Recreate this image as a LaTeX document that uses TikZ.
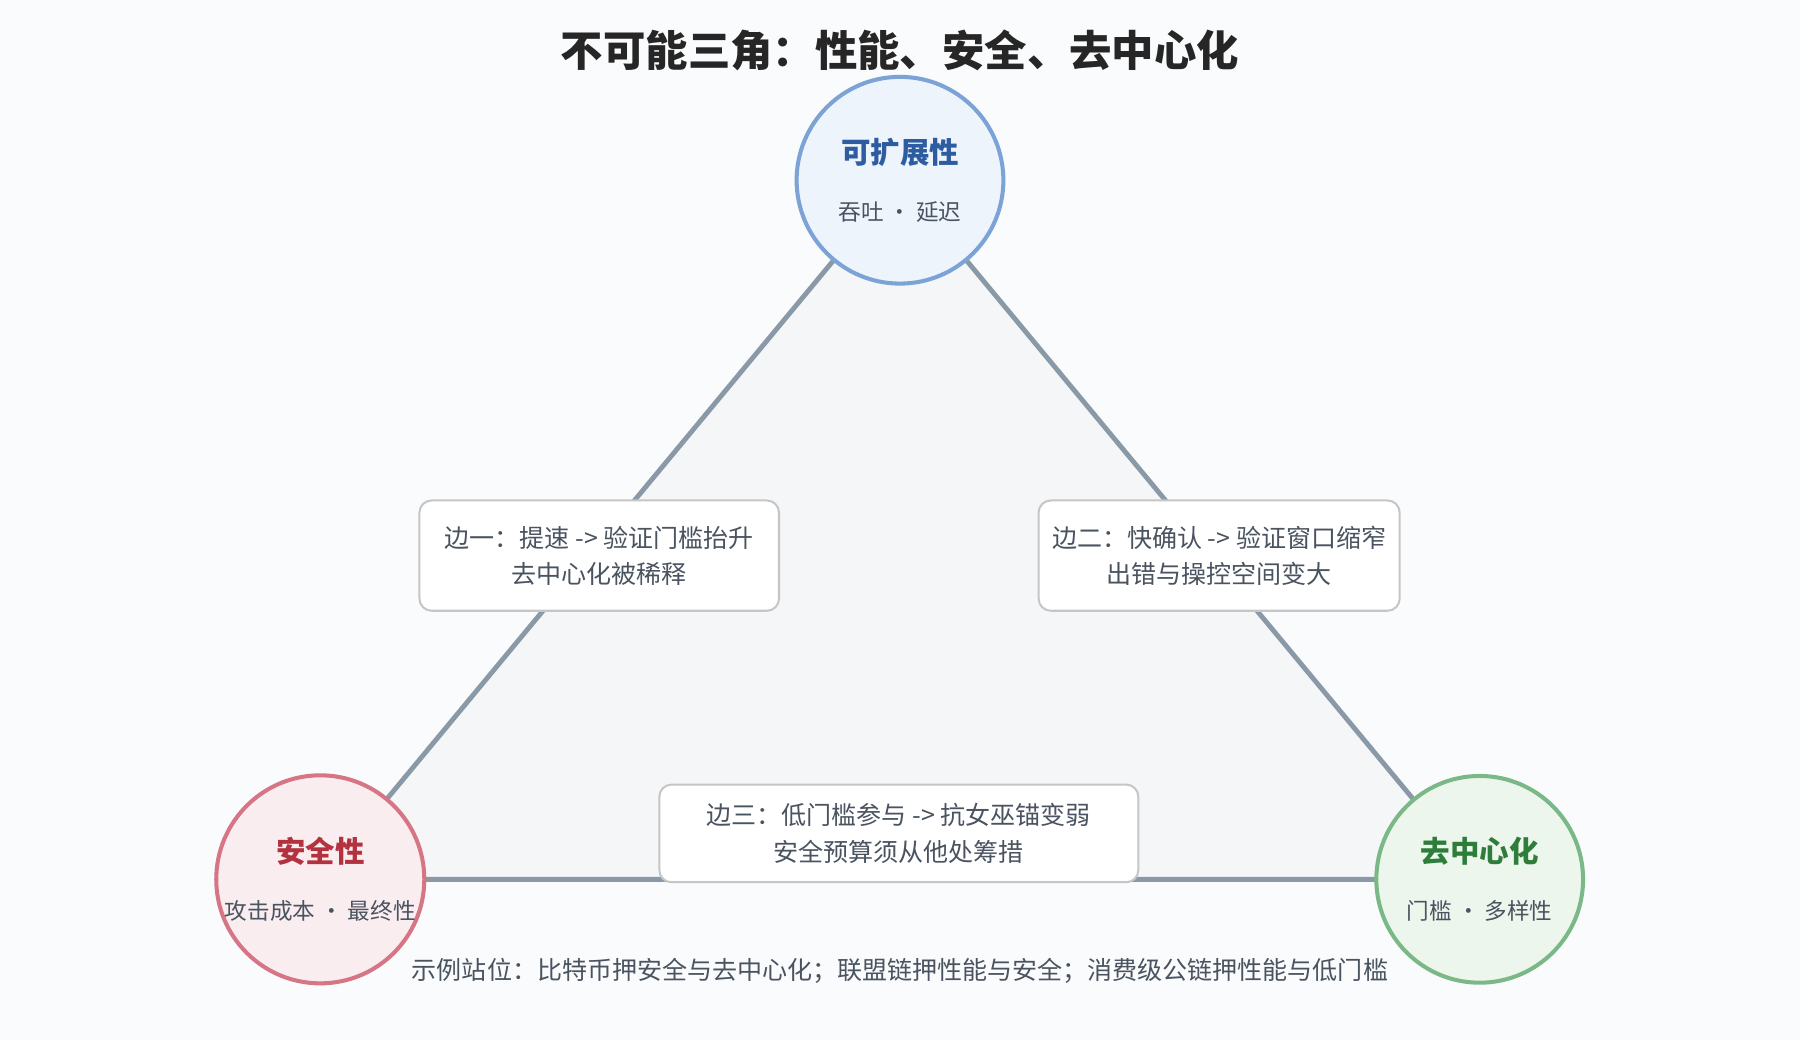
\documentclass[tikz,border=0pt]{standalone}
\usepackage{fontspec}
\setmainfont{Noto Sans CJK SC}
\definecolor{fond}{HTML}{FAFBFC}
\definecolor{trifond}{HTML}{F4F6F8}
\definecolor{trait}{HTML}{8A99A7}
\definecolor{bleuF}{HTML}{EEF4FC}\definecolor{bleuB}{HTML}{7BA3D6}\definecolor{bleuT}{HTML}{2D5CA0}
\definecolor{rougeF}{HTML}{FAEDF0}\definecolor{rougeB}{HTML}{D57586}\definecolor{rougeT}{HTML}{B3323F}
\definecolor{vertF}{HTML}{EDF6EC}\definecolor{vertB}{HTML}{7BB888}\definecolor{vertT}{HTML}{2E7D3A}
\definecolor{texte}{HTML}{4A5360}
\newcommand{\Sous}{\fontsize{5.6}{7}\selectfont\color{texte}}
\newcommand{\Nom}{\fontsize{7.3}{9}\selectfont\bfseries}
\begin{document}
\begin{tikzpicture}[x=0.01cm,y=-0.01cm]
% Styles
\tikzset{
  sommet/.style={circle,line width=1pt,minimum size=1.8cm,inner sep=0pt,align=center},
  cote/.style={line width=1.2pt,draw=trait},
  boite/.style={draw=gray!45,fill=white,rounded corners=3pt,line width=0.5pt,align=center,
    font=\fontsize{6.2}{9}\selectfont,text=texte}
}
% Fond
\fill[fond] (0,0) rectangle (1568,906);
% Sommets
\coordinate (H) at (784,157);
\coordinate (G) at (279,766);
\coordinate (D) at (1289,766);
% Triangle
\filldraw[cote,fill=trifond] (H) -- (G) -- (D) -- cycle;
% Titre
\node (titre) at (784,44) {\fontsize{10.5}{12}\selectfont\bfseries\color{black!85}不可能三角：性能、安全、去中心化};
% Cercles
\node[sommet,draw=bleuB,fill=bleuF] (scal) at (H) {{\Nom\color{bleuT}可扩展性}\\[2pt]{\Sous 吞吐 · 延迟}};
\node[sommet,draw=rougeB,fill=rougeF] (secu) at (G) {{\Nom\color{rougeT}安全性}\\[2pt]{\Sous 攻击成本 · 最终性}};
\node[sommet,draw=vertB,fill=vertF] (decen) at (D) {{\Nom\color{vertT}去中心化}\\[2pt]{\Sous 门槛 · 多样性}};
% Boites des cotes
\node[boite,minimum width=3.13cm,minimum height=0.96cm] (cote1) at (522,484) {边一：提速 -> 验证门槛抬升\\去中心化被稀释};
\node[boite,minimum width=3.13cm,minimum height=0.96cm] (cote2) at (1062,484) {边二：快确认 -> 验证窗口缩窄\\出错与操控空间变大};
\node[boite,minimum width=4.17cm,minimum height=0.85cm] (cote3) at (783,726) {边三：低门槛参与 -> 抗女巫锚变弱\\安全预算须从他处筹措};
% Legende
\node[font=\fontsize{6.2}{8}\selectfont,text=texte] (legende) at (784,846) {示例站位：比特币押安全与去中心化；联盟链押性能与安全；消费级公链押性能与低门槛};
\end{tikzpicture}
\end{document}
